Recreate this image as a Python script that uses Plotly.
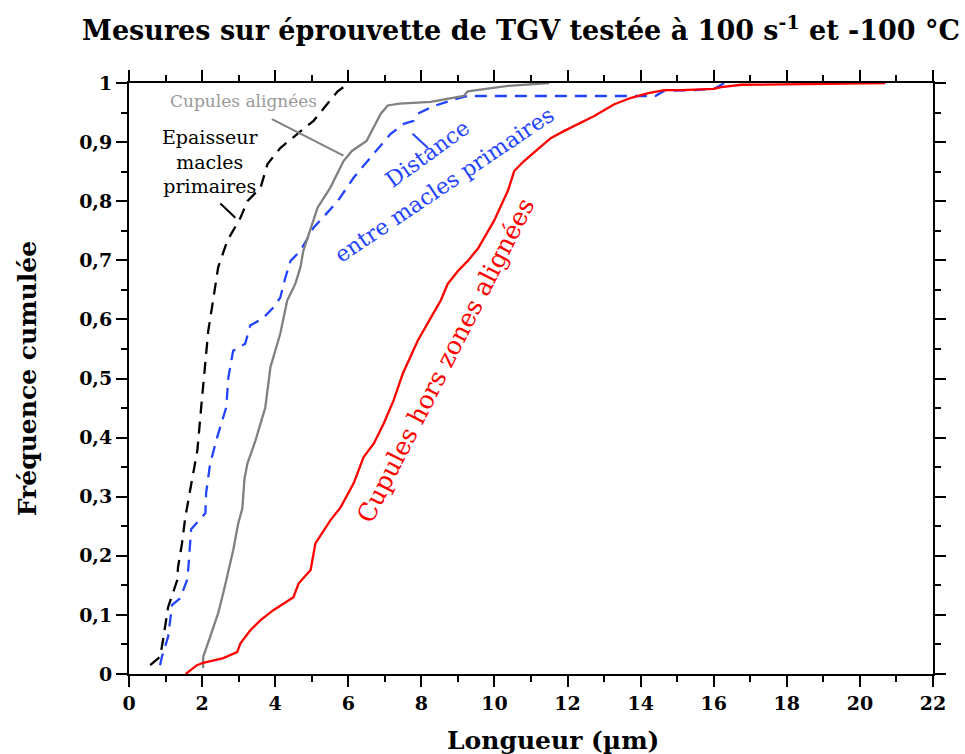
import plotly.graph_objects as go

# Cumulative frequency curves (length in µm, cumulative fraction)
red_x = [1.55, 1.86, 2.03, 2.58, 2.96, 3.05, 3.32, 3.6, 3.95, 4.5, 4.64, 4.97, 5.1, 5.51, 5.79,
         6.15, 6.42, 6.7, 6.97, 7.24, 7.49, 7.65, 7.9, 8.26, 8.53, 8.72, 9.0, 9.27, 9.55, 9.99,
         10.37, 10.54, 10.81, 11.22, 11.55, 11.91, 12.29, 12.73, 13.28, 13.74, 14.21, 14.65,
         15.12, 16.0, 16.2, 16.76, 18.5, 20.7]
red_y = [0.0, 0.015, 0.019, 0.027, 0.037, 0.052, 0.074, 0.091, 0.108, 0.13, 0.153, 0.176, 0.221,
         0.26, 0.282, 0.323, 0.367, 0.39, 0.424, 0.463, 0.508, 0.53, 0.564, 0.603, 0.632, 0.66,
         0.682, 0.699, 0.72, 0.767, 0.818, 0.851, 0.868, 0.89, 0.907, 0.919, 0.93, 0.944, 0.964,
         0.975, 0.983, 0.988, 0.988, 0.99, 0.993, 0.997, 0.998, 1.0]

gray_x = [2.03, 2.03, 2.22, 2.44, 2.58, 2.72, 2.85, 2.99, 3.1, 3.16, 3.24, 3.46, 3.73, 3.87, 4.14,
          4.33, 4.55, 4.69, 4.77, 5.16, 5.51, 5.87, 6.1, 6.5, 6.89, 7.08, 7.4, 8.26, 9.16, 9.27,
          10.37, 11.5]
gray_y = [0.01, 0.029, 0.063, 0.103, 0.137, 0.176, 0.209, 0.255, 0.28, 0.33, 0.356, 0.395, 0.451,
          0.519, 0.576, 0.632, 0.66, 0.688, 0.716, 0.789, 0.823, 0.868, 0.885, 0.902, 0.948, 0.962,
          0.965, 0.968, 0.978, 0.986, 0.995, 1.0]

black_x = [0.58, 0.85, 0.93, 1.07, 1.32, 1.34, 1.45, 1.54, 1.67, 1.87, 2.0, 2.09, 2.17, 2.3, 2.44,
           2.69, 3.05, 3.24, 3.6, 3.79, 4.14, 4.61, 5.05, 5.43, 5.71, 5.98, 6.0]
black_y = [0.015, 0.029, 0.057, 0.113, 0.159, 0.18, 0.221, 0.265, 0.31, 0.378, 0.468, 0.53, 0.581,
           0.632, 0.688, 0.733, 0.772, 0.8, 0.823, 0.863, 0.89, 0.914, 0.936, 0.965, 0.986, 0.998,
           1.0]

blue_x = [0.85, 0.9, 1.07, 1.18, 1.4, 1.59, 1.62, 1.67, 1.7, 2.09, 2.11, 2.22, 2.41, 2.66, 2.72,
          2.85, 3.18, 3.32, 3.65, 3.95, 4.14, 4.28, 4.42, 4.69, 5.05, 5.71, 6.15, 6.69, 7.16, 7.52,
          7.79, 7.9, 8.34, 8.89, 9.27, 14.4, 14.65, 15.5, 16.0, 16.3]
blue_y = [0.015, 0.029, 0.063, 0.117, 0.128, 0.159, 0.176, 0.215, 0.245, 0.272, 0.306, 0.356, 0.4,
          0.451, 0.502, 0.547, 0.559, 0.59, 0.601, 0.62, 0.637, 0.671, 0.699, 0.716, 0.755, 0.8,
          0.84, 0.88, 0.914, 0.931, 0.936, 0.948, 0.961, 0.972, 0.978, 0.978, 0.987, 0.988, 0.99,
          1.0]

x_ticks = list(range(0, 23, 2))
y_ticks = [0, 0.1, 0.2, 0.3, 0.4, 0.5, 0.6, 0.7, 0.8, 0.9, 1]
y_tick_text = ["0", "0,1", "0,2", "0,3", "0,4", "0,5", "0,6", "0,7", "0,8", "0,9", "1"]

SERIF = "DejaVu Serif"
BLUE = "#2244ff"
GRAY = "#808080"

fig = go.Figure()
fig.add_trace(go.Scatter(x=blue_x, y=blue_y, mode="lines",
                         line=dict(color=BLUE, width=2.3, dash="12px,8px")))
fig.add_trace(go.Scatter(x=black_x, y=black_y, mode="lines",
                         line=dict(color="black", width=2.3, dash="12px,8px")))
fig.add_trace(go.Scatter(x=gray_x, y=gray_y, mode="lines",
                         line=dict(color=GRAY, width=2.3)))
fig.add_trace(go.Scatter(x=red_x, y=red_y, mode="lines",
                         line=dict(color="#ff0000", width=2.3)))

# leader lines from labels to curves
fig.add_shape(type="line", x0=3.91, y0=0.939, x1=5.87, y1=0.877,
              line=dict(color=GRAY, width=2))
fig.add_shape(type="line", x0=2.5, y0=0.796, x1=2.91, y1=0.772,
              line=dict(color="black", width=2))
fig.add_shape(type="line", x0=7.76, y0=0.914, x1=8.18, y1=0.89,
              line=dict(color=BLUE, width=2))

axis_common = dict(showline=True, linecolor="black", linewidth=2, mirror="allticks",
                   ticks="outside", ticklen=11, tickwidth=2, tickcolor="black",
                   showgrid=False, zeroline=False,
                   tickfont=dict(family=SERIF, size=19, color="black", weight="bold"))

fig.update_xaxes(range=[0, 22], tickvals=x_ticks,
                 minor=dict(dtick=1, ticks="outside", ticklen=6, tickwidth=1.5, tickcolor="black"),
                 **axis_common)
fig.update_yaxes(range=[0, 1], tickvals=y_ticks, ticktext=y_tick_text,
                 minor=dict(dtick=0.05, ticks="outside", ticklen=6, tickwidth=1.5, tickcolor="black"),
                 **axis_common)

annotations = [
    dict(text="Mesures sur éprouvette de TGV testée à 100 s<sup>-1</sup> et -100 °C",
         xref="paper", yref="paper", x=0.4876, y=1.093, xanchor="center", yanchor="middle",
         showarrow=False, font=dict(family=SERIF, size=27, color="black", weight="bold")),
    dict(text="Fréquence cumulée", xref="paper", yref="paper", x=-0.126, y=0.5,
         xanchor="center", yanchor="middle", textangle=-90, showarrow=False,
         font=dict(family=SERIF, size=25, color="black", weight="bold")),
    dict(text="Longueur (µm)", xref="paper", yref="paper", x=0.527, y=-0.112,
         xanchor="center", yanchor="middle", showarrow=False,
         font=dict(family=SERIF, size=25, color="black", weight="bold")),
    dict(text="Cupules alignées", x=3.13, y=0.97, showarrow=False,
         font=dict(family=SERIF, size=17, color="#999999")),
    dict(text="Epaisseur<br>macles<br>primaires", x=2.22, y=0.868, showarrow=False,
         font=dict(family=SERIF, size=19, color="black")),
    dict(text="Distance", x=8.18, y=0.88, textangle=-36, showarrow=False,
         font=dict(family=SERIF, size=22, color=BLUE)),
    dict(text="entre macles primaires", x=8.64, y=0.828, textangle=-34, showarrow=False,
         font=dict(family=SERIF, size=22, color=BLUE)),
    dict(text="Cupules hors zones alignées", x=8.67, y=0.53, textangle=-63, showarrow=False,
         font=dict(family=SERIF, size=25, color="#ff0000")),
]

fig.update_layout(width=965, height=754, margin=dict(l=129, r=32, t=83, b=80),
                  plot_bgcolor="white", paper_bgcolor="white", showlegend=False,
                  annotations=annotations)

fig.write_html("out.html")
